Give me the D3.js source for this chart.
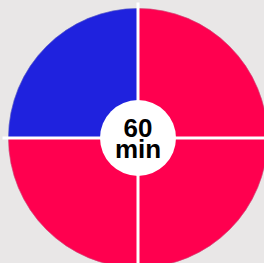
<!DOCTYPE html>
<html>
<head>
<meta charset="utf-8">
<script src="https://cdn.jsdelivr.net/npm/d3@7"></script>
<style>
  html, body { margin:0; padding:0; background:#e9e7e7; }
  svg { display:block; }
  .lbl { font-family:"Liberation Sans", Arial, sans-serif; font-weight:bold; fill:#000; }
</style>
</head>
<body>
<div id="chart"></div>
<script>
(function(){
	var width = 264,
	height = 263;

	// minutes of the hour, in 15 min blocks
	var segments = ["0-15","15-30","30-45","45-60"];
	var minutes = [15, 15, 15, 15];
	var segColors = ["#ff004f", "#ff004f", "#ff004f", "#1f22de"];
	var dividers = [0, 15, 30, 45];
	var total = 60;
	var centerLabel = ["60", "min"];

	var cx = 138, cy = 138, radius = 129.5;

	var svg = d3.select("#chart")
		.append("svg")
		.attr("width", width)
		.attr("height", height)
		.append("g")
		.attr("transform", "translate(" + cx + "," + cy + ")")

	var data = segments.map(function(s, i){ return {name: s, value: minutes[i], color: segColors[i]}; })

	var pie = d3.pie()
		.sort(null)
		.value(function(d){ return d.value; })

	var arc = d3.arc()
		.innerRadius(0)
		.outerRadius(radius)

	svg.selectAll(".slice")
		.data(pie(data))
		.enter().append("path")
		.attr("class", "slice")
		.attr("d", arc)
		.attr("fill", function(d){ return d.data.color; })
		.attr("stroke", function(d){ return d.data.color; })
		.attr("stroke-width", 0.5)

	// faint rim
	svg.append("circle")
		.attr("r", radius)
		.attr("fill", "none")
		.attr("stroke", "#8a8a9a")
		.attr("stroke-opacity", 0.35)
		.attr("stroke-width", 0.8)

	var angle = d3.scaleLinear()
		.domain([0, total])
		.range([0, 2 * Math.PI])

	svg.selectAll(".divider")
		.data(dividers)
		.enter().append("line")
		.attr("class", "divider")
		.attr("x1", 0)
		.attr("y1", 0)
		.attr("x2", function(d){ return Math.sin(angle(d)) * (radius + 6); })
		.attr("y2", function(d){ return -Math.cos(angle(d)) * (radius + 6); })
		.style("stroke", "#fff")
		.style("stroke-width", "3px")

	svg.append("circle")
		.attr("r", 38)
		.attr("fill", "#fff")

	svg.append("text")
		.attr("class", "lbl")
		.attr("text-anchor", "middle")
		.attr("y", -1.5)
		.style("font-size", "26px")
		.text(centerLabel[0])

	svg.append("text")
		.attr("class", "lbl")
		.attr("text-anchor", "middle")
		.attr("y", 19.5)
		.style("font-size", "26px")
		.text(centerLabel[1])
})();
</script>
</body>
</html>
